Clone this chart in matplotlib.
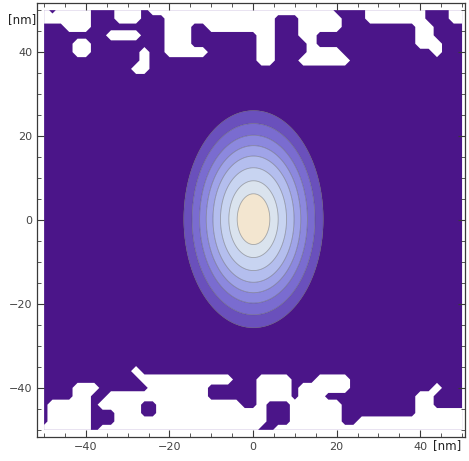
import numpy as np
import matplotlib
matplotlib.use("Agg")
import matplotlib.pyplot as plt
from matplotlib.ticker import MultipleLocator

# ---- data ----
# contour level positions (semi-axis along x, nm), inner -> outer
contour_semi_x = [3.9, 5.9, 7.9, 9.7, 11.3, 12.9, 14.7, 16.7]
aspect_y_over_x = 1.55
center = (0.1, 0.2)
# band colours, centre -> background
band_colors = ["#F3E6D0", "#DAE3EE", "#C8D4F1", "#B4BEEE", "#A0A4E8",
               "#8C88DE", "#7A6CD0", "#6A50BC", "#4B1589"]

# white (undefined) regions; '#' = white, grid step 2 nm, x = -50..50
top_rows_y = [50, 48, 46, 44, 42, 40, 38, 36, 34]
top_mask = [
    "#.####...###" + "." + "#" * 22 + "..." + ".#######...##",
    "######...###" + "...######" + "#####" + "##" + "..." + "#####" + ".." + ".#######...##",
    "...###......" + "...###..#" + "#####" + "##" + "..." + "###" + "##" + ".." + ".......##....",
    "........####" + "...###" + "........" + "##" + "..." + "##" + "..." + ".." + ".......##....",
    "....##......" + "...###" + "........" + "##" + "..." + ".#" + "....." + ".......###...",
    "....##......" + "#..#####" + "......" + "##" + "..." + "." + "####" + ".." + ".........#...",
    "............" + "#" + "." * 13 + "##" + "..." + "######" + "." + "." * 13,
    "...........#" + "#" + "." * 25 + "." * 13,
    "." * 51,
]
bot_rows_y = [-32, -34, -36, -38, -40, -42, -44, -46, -48, -50]
bot_mask = [
    "." * 51,
    "." * 51,
    "..........." + "#" + "." * 39,
    "." * 12 + "#" * 11 + "..." + "####" + "..." + "####" + "." * 14,
    "....###......" + "#######" + "......" + "####" + "." + "######" + "." * 10 + "#...",
    "....##..####" + "###" + "#####" + "......" + "####" + "." + "###" + "." * 11 + "##....",
    ".#####.#####.." + "#" * 10 + "..#..." + "######" + "." * 9 + "##....",
    ".#####...###.." + "#" * 13 + "..." + "######" + ".." + "......." + "######",
    ".#####...###" + "#" * 15 + "..." + "######" + ".." + "#" * 13,
    "######." + "#" * 19 + ".." + "#" * 23,
]

xticks = [-40, -20, 0, 20, 40]
yticks = [-40, -20, 0, 20, 40]

# ---- figure ----
W, H = 469, 461
fig = plt.figure(figsize=(W / 100, H / 100), dpi=100)
ax = fig.add_axes([37 / W, (H - 437) / H, (465 - 37) / W, (437 - 3) / H])
ax.set_xlim(-51.7, 50.7)
ax.set_ylim(-51.7, 51.7)
ax.set_facecolor("white")

x = np.linspace(-50, 50, 601)
y = np.linspace(-50, 50, 601)
X, Y = np.meshgrid(x, y)
R = np.sqrt((X - center[0]) ** 2 + ((Y - center[1]) / aspect_y_over_x) ** 2)
levels = [0] + contour_semi_x + [1000]
ax.contourf(X, Y, R, levels=levels, colors=band_colors, antialiased=True)
ax.contour(X, Y, R, levels=contour_semi_x, colors="#505050", linewidths=0.6,
           alpha=0.45)

# white regions
gx = np.arange(-50, 51, 2)
ncol = len(gx)


def draw_mask(rows, ys):
    rows = [r[:ncol].ljust(ncol, ".") for r in rows]
    M = np.array([[1.0 if c == "#" else 0.0 for c in r] for r in rows])
    GX, GY = np.meshgrid(gx, np.array(ys, dtype=float))
    ax.contourf(GX, GY, M, levels=[0.4, 1.5], colors="white",
                antialiased=True)


draw_mask(top_mask, top_rows_y)
draw_mask(bot_mask, bot_rows_y)

# frame / ticks
for s in ax.spines.values():
    s.set_color("#3a3a3a")
    s.set_linewidth(0.9)
ax.set_xticks(xticks)
ax.set_yticks(yticks)
ax.xaxis.set_minor_locator(MultipleLocator(5))
ax.yaxis.set_minor_locator(MultipleLocator(5))
ax.tick_params(which="both", direction="in", top=True, right=True,
               color="#3a3a3a", labelsize=8, labelcolor="#444444")
ax.tick_params(which="major", length=5, width=0.8)
ax.tick_params(which="minor", length=3, width=0.6)

fig.text(22 / W, 1 - 20 / H, "[nm]", ha="center", va="center", fontsize=8.5,
         color="#222222")
fig.text(447 / W, 1 - 446 / H, "[nm]", ha="center", va="center", fontsize=8.5,
         color="#222222")

fig.savefig("out.png", dpi=100, facecolor="white")
